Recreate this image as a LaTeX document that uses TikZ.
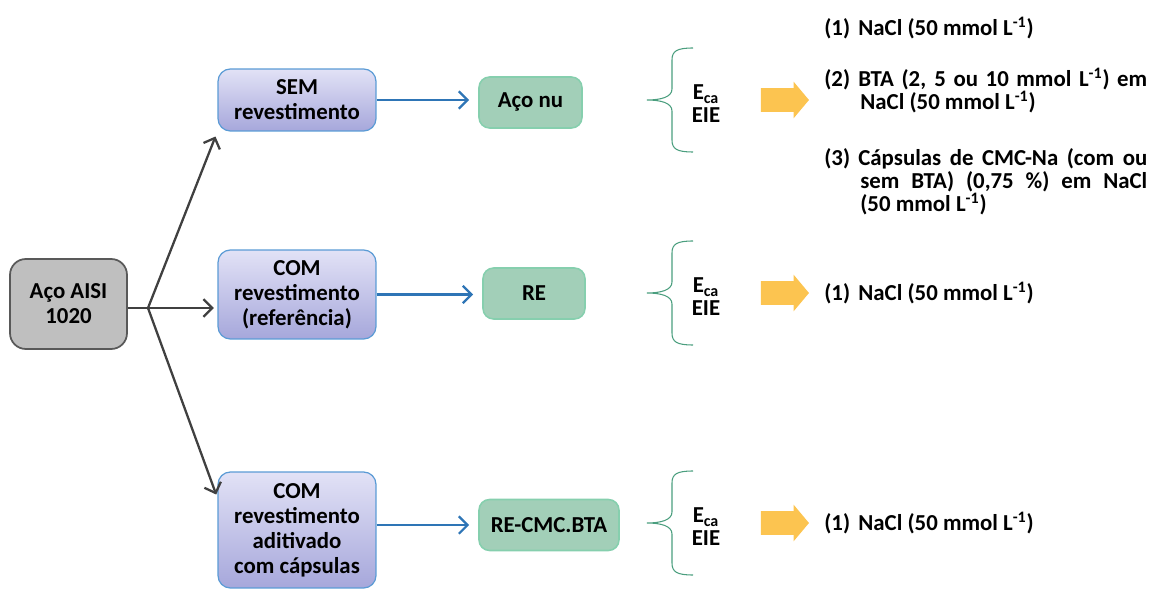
\documentclass[tikz,border=0pt]{standalone}
\usepackage{fontspec}
\setmainfont{Carlito}
\usetikzlibrary{arrows.meta, shapes.arrows}

\definecolor{cinzaF}{HTML}{BFBFBF}
\definecolor{cinzaB}{HTML}{595959}
\definecolor{cinzaA}{HTML}{404040}
\definecolor{lilasA}{HTML}{E2E2F6}
\definecolor{lilasB}{HTML}{A6A7DB}
\definecolor{azulB}{HTML}{5B9BD5}
\definecolor{azulA}{HTML}{2E75B6}
\definecolor{verdeF}{HTML}{A2CFB8}
\definecolor{verdeB}{HTML}{86CFAE}
\definecolor{verdeC}{HTML}{4A9E7E}
\definecolor{amarelo}{HTML}{FCC450}

\newcommand{\rotulo}[1]{\makebox[0.68cm][l]{#1}}
\newcommand{\paragr}[1]{\parbox[t]{6.46cm}{\hangindent=0.72cm\hangafter=1 #1}}

\begin{document}
\begin{tikzpicture}[x=0.02cm, y=-0.02cm,
    font=\bfseries\fontsize{13}{14.2}\selectfont,
    cx/.style={rectangle, rounded corners=9pt, draw=cinzaB, line width=1pt,
        fill=cinzaF, align=center, inner sep=0pt},
    rv/.style={rectangle, rounded corners=7pt, draw=azulB, line width=0.7pt,
        top color=lilasA, bottom color=lilasB, minimum width=3.16cm,
        align=center, inner sep=0pt},
    am/.style={rectangle, rounded corners=6pt, draw=verdeB, line width=0.9pt,
        fill=verdeF, minimum height=1.02cm, inner sep=0pt},
    ar/.style={->, >={Straight Barb[length=5pt,width=10pt]}, line width=1.3pt, draw=cinzaA},
    ab/.style={ar, draw=azulA, shorten >=0.18cm},
    seta/.style={single arrow, fill=amarelo, minimum height=0.96cm, inner xsep=0pt,
        inner ysep=0.23cm, single arrow head extend=0.13cm, single arrow tip angle=100},
    eie/.style={align=center, font=\bfseries\fontsize{13}{13}\selectfont},
    tx/.style={anchor=west, inner sep=0pt},
    bloco/.style={anchor=north west, inner sep=0pt,
        font=\bfseries\fontsize{13}{13.1}\selectfont},
    brc/.style={draw=verdeC, line width=0.6pt}]
\useasboundingbox (0,0) rectangle (1157,591);

% amostras
\node[cx, minimum width=2.34cm, minimum height=1.8cm] (aco) at (68.5,304) {Aço AISI\\1020};
\node[rv, minimum height=1.24cm] (sem) at (297,100) {SEM\\revestimento};
\node[rv, minimum height=1.78cm] (comref) at (297,294.5) {COM\\revestimento\\(referência)};
\node[rv, minimum height=2.32cm] (comcap) at (297,530) {COM\\revestimento\\aditivado\\com cápsulas};
\node[am, minimum width=2.06cm] (aconu) at (530.5,102.5) {Aço nu};
\node[am, minimum width=2.04cm] (re) at (534,293.5) {RE};
\node[am, minimum width=2.8cm] (recmc) at (549,525) {RE-CMC.BTA};

\coordinate (jn) at (148,308);
\draw[line width=1.3pt, cinzaA] (aco.east |- jn) -- (jn);
\draw[ar, shorten >=3pt] (jn) -- (sem.south west);
\draw[ar, shorten >=2pt] (jn) -- (jn -| comref.west);
\draw[ar, shorten >=2pt] (jn) -- (comcap.158);

\draw[ab] (sem.east) -- (sem.east -| aconu.west);
\draw[ab] (comref.east) -- (comref.east -| re.west);
\draw[ab] (comcap.east |- recmc) -- (recmc.west);

% ensaios
\foreach \y/\n in {100/a,293/b,523/c} {
  \draw[brc] (693,\y-52) .. controls (677,\y-52) and (672,\y-49) .. (672,\y-40)
    -- (672,\y-11) .. controls (672,\y-3) and (661,\y) .. (647,\y)
    .. controls (661,\y) and (672,\y+3) .. (672,\y+11)
    -- (672,\y+40) .. controls (672,\y+49) and (677,\y+52) .. (693,\y+52);
  \node[eie] (eie\n) at (706,\y+4) {E\textsubscript{ca}\\EIE};
  \node[seta] (seta\n) at (780,\y) {};
}

% meios
\node[tx] (m1) at (824,28) {\rotulo{(1)}NaCl (50 mmol L\textsuperscript{-1})};
\node[bloco] (m2) at (824,68) {\paragr{\rotulo{(2)}BTA (2, 5 ou 10 mmol L\textsuperscript{-1}) em\linebreak
    NaCl (50 mmol L\textsuperscript{-1})}};
\node[bloco] (m3) at (824,148) {\paragr{\rotulo{(3)}Cápsulas de CMC-Na (com ou\linebreak
    sem BTA) (0,75 \%) em NaCl\linebreak
    (50 mmol L\textsuperscript{-1})}};
\node[tx] (m4) at (824,293) {\rotulo{(1)}NaCl (50 mmol L\textsuperscript{-1})};
\node[tx] (m5) at (824,523) {\rotulo{(1)}NaCl (50 mmol L\textsuperscript{-1})};
\end{tikzpicture}
\end{document}
